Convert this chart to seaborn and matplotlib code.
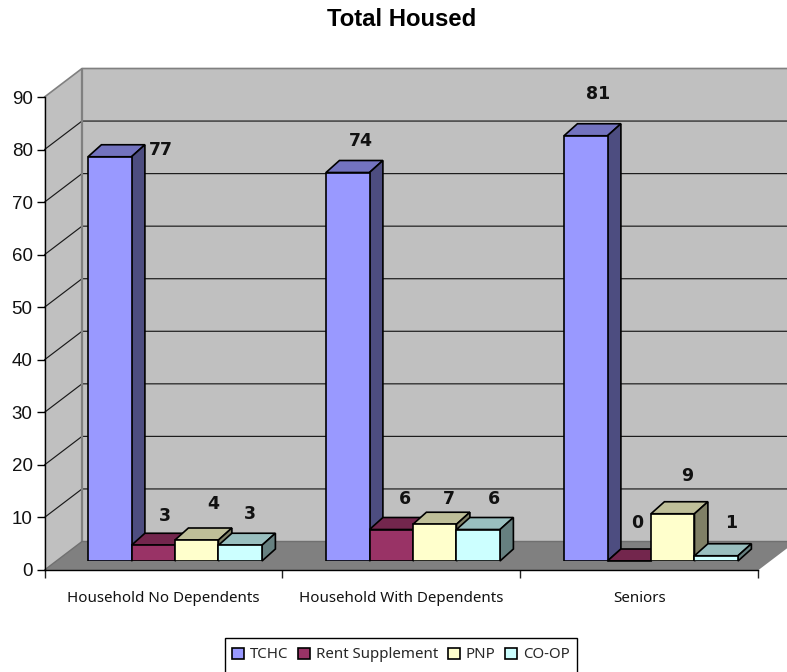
import matplotlib
matplotlib.use("Agg")
import matplotlib.pyplot as plt
import matplotlib.colors as mcolors
from matplotlib.lines import Line2D
from matplotlib.patches import Polygon, Rectangle
from matplotlib.transforms import IdentityTransform
import pandas as pd
import seaborn as sns

# data
categories = ["Household No Dependents", "Household With Dependents", "Seniors"]
tchc = [77, 74, 81]
rent_supplement = [3, 6, 0]
pnp = [4, 7, 9]
co_op = [3, 6, 1]
series_names = ["TCHC", "Rent Supplement", "PNP", "CO-OP"]
y_ticks = [0, 10, 20, 30, 40, 50, 60, 70, 80, 90]

# style
colors = ["#9999FF", "#993366", "#FFFFCC", "#CCFFFF"]
W, H = 787, 672
WALL_DX, WALL_DY = 37.5, 28.5
BAR_DX, BAR_DY = 13.4, 12
LABEL_FONT = "DejaVu Sans"
# where Excel dropped each value label, px from the top centre of its bar
label_offsets = [(51, 7), (13, 31.5), (12, 42),
                 (12, 29), (13.5, 30), (7.5, 38),
                 (16.5, 36), (14.5, 25), (14.5, 38),
                 (9.5, 31), (15.5, 30), (15, 33)]

df = pd.DataFrame({
    "category": categories * 4,
    "series": [s for s in series_names for _ in categories],
    "value": tchc + rent_supplement + pnp + co_op,
})

sns.set_theme(style="white")
plt.rcParams["font.family"] = ["Liberation Sans", "DejaVu Sans"]

fig = plt.figure(figsize=(W / 100, H / 100), dpi=100)


def axes_rect(left, top, right, bottom):
    return [left / W, 1 - bottom / H, (right - left) / W, (bottom - top) / H]


def add_poly(target, pts, **kw):
    poly = Polygon(pts, closed=True, transform=IdentityTransform(), clip_on=False, **kw)
    if target is fig:
        fig.add_artist(poly)
    else:
        target.add_patch(poly)
    return poly


# front plane holds the axes, bar plane sits a bit further back
ax = fig.add_axes(axes_rect(44.5, 97, 758.5, 570))
ax.patch.set_visible(False)
ax.set_xlim(0, 3)
ax.set_ylim(0, 90)
ax.set_yticks(y_ticks)
ax.set_xticks([0, 1, 2, 3])
ax.set_xticklabels([])
ax.set_xticks([0.5, 1.5, 2.5], minor=True)
ax.set_xticklabels(categories, minor=True, fontsize=10.9, family="Noto Sans", color="#111111")
ax.tick_params(axis="x", which="major", length=6, width=1, color="#222222", bottom=True)
ax.tick_params(axis="x", which="minor", length=0, pad=15)
ax.tick_params(axis="y", length=6, width=1, color="black", left=True, labelsize=13.5, pad=2.5, labelcolor="#111111")
for side in ["top", "right"]:
    ax.spines[side].set_visible(False)
for side in ["left", "bottom"]:
    ax.spines[side].set_color("black")
    ax.spines[side].set_linewidth(1)

# wall + floor, built from the front plane corners
x0, y0 = ax.transData.transform((0, 0))
x1, y_top = ax.transData.transform((3, 90))
add_poly(fig, [(x0, y0), (x0 + WALL_DX, y0 + WALL_DY), (x0 + WALL_DX, y_top + WALL_DY), (x0, y_top)],
         facecolor="#C0C0C0", edgecolor="none", zorder=-3)
add_poly(fig, [(x0 + WALL_DX, y0 + WALL_DY), (x1 + WALL_DX, y0 + WALL_DY), (x1 + WALL_DX, y_top + WALL_DY), (x0 + WALL_DX, y_top + WALL_DY)],
         facecolor="#C0C0C0", edgecolor="none", zorder=-3)
add_poly(fig, [(x0, y0), (x1, y0), (x1 + WALL_DX, y0 + WALL_DY), (x0 + WALL_DX, y0 + WALL_DY)],
         facecolor="#808080", edgecolor="none", zorder=-2)

for v in y_ticks[1:-1]:
    _, yv = ax.transData.transform((0, v))
    fig.add_artist(Line2D([x0, x0 + WALL_DX, x1 + WALL_DX], [yv, yv + WALL_DY, yv + WALL_DY],
                          transform=IdentityTransform(), color="#1a1a1a", lw=0.85, zorder=-1))
# gray frame of the wall
fig.add_artist(Line2D([x0, x0 + WALL_DX, x1 + WALL_DX], [y_top, y_top + WALL_DY, y_top + WALL_DY],
                      transform=IdentityTransform(), color="#808080", lw=1.2, zorder=-1))
fig.add_artist(Line2D([x0 + WALL_DX, x0 + WALL_DX], [y0 + WALL_DY, y_top + WALL_DY],
                      transform=IdentityTransform(), color="#808080", lw=1.6, zorder=-1))
fig.add_artist(Line2D([x0, x0 + WALL_DX, x1 + WALL_DX], [y0, y0 + WALL_DY, y0 + WALL_DY],
                      transform=IdentityTransform(), color="#707070", lw=1, zorder=-1))

ax_bars = fig.add_axes(axes_rect(56, 88.5, 770, 561))
ax_bars.set_axis_off()
sns.barplot(data=df, x="category", y="value", hue="series", order=categories, hue_order=series_names,
            palette=colors, saturation=1, width=0.731, gap=0, dodge=True,
            edgecolor="black", linewidth=1.2, errorbar=None, ax=ax_bars)
ax_bars.set_xlim(-0.5, 2.5)
ax_bars.set_ylim(0, 90)
ax_bars.set_axis_off()

# collect bars left to right, then extrude each one
bars = []
for s_i, cont in enumerate(ax_bars.containers):
    for c_i, bar in enumerate(cont):
        bars.append((bar.get_x(), s_i, c_i, bar))
bars.sort(key=lambda b: b[0])

fig.canvas.draw()
for order, (_, s_i, c_i, bar) in enumerate(bars):
    base = colors[s_i]
    r, g, b = mcolors.to_rgb(base)
    (left, bot) = ax_bars.transData.transform((bar.get_x(), 0))
    (right, top) = ax_bars.transData.transform((bar.get_x() + bar.get_width(), bar.get_height()))
    z = 3 + order * 2
    add_poly(ax_bars, [(left, top), (right, top), (right + BAR_DX, top + BAR_DY), (left + BAR_DX, top + BAR_DY)],
             facecolor=(r * 0.75, g * 0.75, b * 0.75), edgecolor="black", linewidth=1.2, zorder=z)
    add_poly(ax_bars, [(right, bot), (right + BAR_DX, bot + BAR_DY), (right + BAR_DX, top + BAR_DY), (right, top)],
             facecolor=(r * 0.5, g * 0.5, b * 0.5), edgecolor="black", linewidth=1.2, zorder=z)
    bar.set_zorder(z + 1)

    dx, dy = label_offsets[s_i * 3 + c_i]
    ax_bars.annotate(f"{int(bar.get_height())}", xy=((left + right) / 2 + dx, top + dy), xycoords=IdentityTransform(),
                     ha="center", va="center", fontsize=12.5, fontweight="bold", family=LABEL_FONT,
                     color="#111111", zorder=100, annotation_clip=False)

# legend box runs off the bottom of the image in the original, so frame is drawn separately
sns.move_legend(ax_bars, "center", bbox_to_anchor=(401 / W, 1 - 655 / H), bbox_transform=fig.transFigure,
                ncol=4, title=None, frameon=False,
                prop={"family": "Noto Sans", "size": 10.8}, handlelength=0.8, handleheight=0.8,
                handletextpad=0.37, columnspacing=0.67, borderpad=0, borderaxespad=0)
ax_bars.get_legend().set_zorder(200)
fig.add_artist(Rectangle((225, -5), 352, H - 638 + 5, transform=IdentityTransform(),
                         facecolor="none", edgecolor="black", linewidth=1, zorder=5))

fig.text(402 / W, 1 - 20 / H, "Total Housed", ha="center", va="center", fontsize=17.2, fontweight="bold",
         family="Liberation Sans", color="black")

fig.savefig("out.png", dpi=100, facecolor="white")
